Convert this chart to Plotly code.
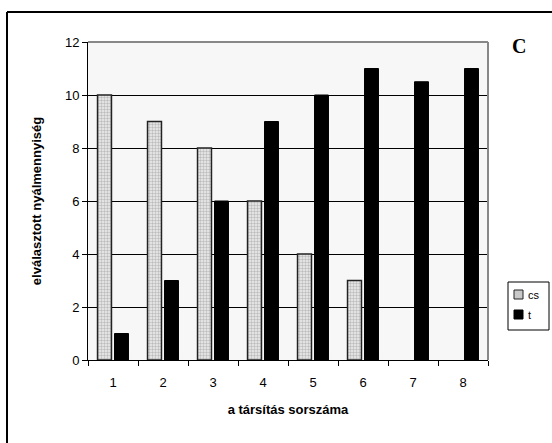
import plotly.graph_objects as go

categories = ["1", "2", "3", "4", "5", "6", "7", "8"]
cs_values = [10, 9, 8, 6, 4, 3, 0, 0]
t_values = [1, 3, 6, 9, 10, 11, 10.5, 11]
y_ticks = [0, 2, 4, 6, 8, 10, 12]
series_names = ["cs", "t"]

fig = go.Figure()
fig.add_trace(go.Bar(
    x=categories, y=cs_values, name=series_names[0],
    marker=dict(color="#e0e0e0",
                line=dict(color="#222", width=[1.5 if v > 0 else 0 for v in cs_values]),
                pattern=dict(shape=".", fgcolor="#8a8a8a", bgcolor="#eeeeee", size=3, solidity=0.5)),
))
fig.add_trace(go.Bar(
    x=categories, y=t_values, name=series_names[1],
    marker=dict(color="black", line=dict(color="black", width=1)),
))

W, H = 552, 443
L, R, T, B = 88, 488, 42, 360
def px(x):
    return (x - L) / (R - L)
def py(y):
    return (B - y) / (B - T)

def box(x0, y0, x1, y1, **kw):
    return dict(type="rect", xref="paper", yref="paper",
                x0=px(x0), x1=px(x1), y0=py(y0), y1=py(y1), **kw)

shapes = [
    dict(type="line", xref="paper", yref="paper", x0=px(7), x1=px(552), y0=py(12), y1=py(12),
         line=dict(color="black", width=2)),
    dict(type="line", xref="paper", yref="paper", x0=px(7), x1=px(7), y0=py(12), y1=py(443),
         line=dict(color="black", width=2)),
    dict(type="line", xref="paper", yref="paper", x0=0, x1=1, y0=1, y1=1,
         line=dict(color="#888", width=2)),
    dict(type="line", xref="paper", yref="paper", x0=1, x1=1, y0=0, y1=1,
         line=dict(color="#888", width=2)),
    # manual legend
    box(508, 282, 549, 330, line=dict(color="black", width=1), fillcolor="white"),
    box(514, 290, 523, 299, line=dict(color="#222", width=1), fillcolor="#c8c8c8"),
    box(514, 310, 523, 319, line=dict(color="black", width=1), fillcolor="black"),
]

annotations = [
    dict(text="<b>C</b>", xref="paper", yref="paper", x=px(519), y=py(46),
         showarrow=False, font=dict(family="Liberation Serif, Times New Roman", size=20),
         xanchor="center", yanchor="middle"),
    dict(text=series_names[0], xref="paper", yref="paper", x=px(526), y=py(295),
         showarrow=False, font=dict(size=11), xanchor="left", yanchor="middle"),
    dict(text=series_names[1], xref="paper", yref="paper", x=px(526), y=py(315),
         showarrow=False, font=dict(size=11), xanchor="left", yanchor="middle"),
]

fig.update_layout(
    width=W, height=H,
    margin=dict(l=L, r=W - R, t=T, b=H - B, autoexpand=False),
    paper_bgcolor="white", plot_bgcolor="#f7f7f7",
    barmode="group", bargap=0.32, bargroupgap=0.18,
    font=dict(family="Arial, Liberation Sans", size=13, color="black"),
    showlegend=False,
    xaxis=dict(type="category", showline=True, linecolor="black", linewidth=1,
               ticks="outside", tickson="boundaries", ticklen=5, tickcolor="black",
               ticklabelstandoff=10,
               title=dict(text="<b>a társítás sorszáma</b>", font=dict(size=13), standoff=16),
               mirror=False),
    yaxis=dict(range=[0, 12], tickvals=y_ticks, showline=True, linecolor="black", linewidth=1,
               ticks="outside", ticklen=5, tickcolor="black",
               showgrid=True, gridcolor="black", gridwidth=1, zeroline=False,
               title=dict(text="<b>elválasztott nyálmennyiség</b>", font=dict(size=13), standoff=20)),
    shapes=shapes,
    annotations=annotations,
)

fig.write_html("out.html")
